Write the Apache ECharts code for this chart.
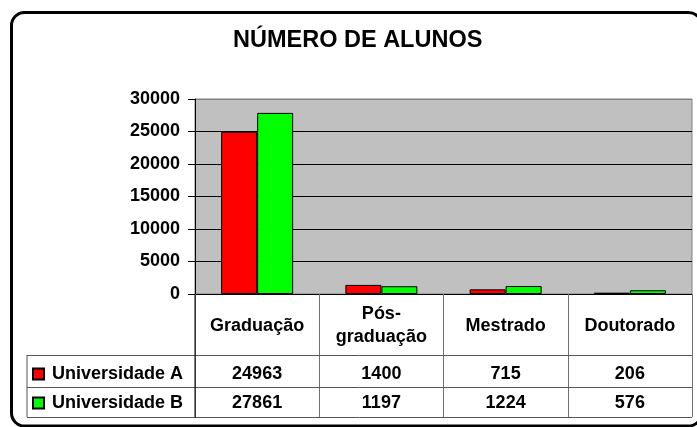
<!DOCTYPE html>
<html>
<head>
<meta charset="utf-8">
<script src="https://cdn.jsdelivr.net/npm/echarts@6/dist/echarts.min.js"></script>
<style>html,body{margin:0;padding:0;background:#fff}#c{width:697px;height:427px}</style>
</head>
<body>
<div id="c"></div>
<script>
var titleText = 'NÚMERO DE ALUNOS';
var categories = ['Graduação', 'Pós-\ngraduação', 'Mestrado', 'Doutorado'];
var seriesNames = ['Universidade A', 'Universidade B'];
var uniA = [24963, 1400, 715, 206];
var uniB = [27861, 1197, 1224, 576];
var yTicks = [0, 5000, 10000, 15000, 20000, 25000, 30000];

var FONT = 'Liberation Sans, Arial, sans-serif';
var chart = echarts.init(document.getElementById('c'));

var G = {left: 195, right: 692, top: 99, bottom: 294};
var rowLines = [355, 387, 417];

function tableAxis(values, margin) {
  return {
    type: 'category', data: categories, gridIndex: 0, position: 'bottom', offset: 0,
    axisLine: {show: false}, axisTick: {show: false}, splitLine: {show: false},
    axisLabel: {
      margin: margin, verticalAlign: 'middle', interval: 0,
      color: '#000', fontFamily: FONT, fontWeight: 'bold', fontSize: 18,
      formatter: function (v, i) { return String(values[i]); }
    }
  };
}

var graphics = [
  {type: 'rect', silent: true, z: 100,
   shape: {x: 11.5, y: 12.5, width: 690, height: 413.5, r: 13},
   style: {fill: 'transparent', stroke: '#000', lineWidth: 3}},
  {type: 'line', silent: true, z: 50, shape: {x1: G.left, y1: G.bottom, x2: G.left, y2: rowLines[2] + 0.5},
   style: {stroke: '#000', lineWidth: 1}},
  {type: 'line', silent: true, z: 40, shape: {x1: 27, y1: rowLines[0], x2: 27, y2: rowLines[2]},
   style: {stroke: '#555', lineWidth: 1}}
];
rowLines.forEach(function (y) {
  graphics.push({type: 'line', silent: true, z: 40,
    shape: {x1: 27, y1: y + 0.5, x2: G.right, y2: y + 0.5},
    style: {stroke: '#555', lineWidth: 1}});
});

var option = {
  animation: false,
  backgroundColor: '#fff',
  title: {
    text: titleText, left: 233, top: 29, padding: 0,
    textStyle: {fontFamily: FONT, fontWeight: 'bold', fontSize: 23.5, color: '#000', lineHeight: 24}
  },
  legend: seriesNames.map(function (n, i) {
    return {
      data: [n], orient: 'vertical', left: 32, top: 364 + i * 29, padding: 0,
      itemWidth: 11, itemHeight: 11, icon: 'rect', selectedMode: false,
      textStyle: {fontFamily: FONT, fontWeight: 'bold', fontSize: 18, color: '#000', lineHeight: 20, padding: [0, 0, 0, 3]}
    };
  }),
  grid: {
    left: G.left, right: 697 - G.right, top: G.top, bottom: 427 - G.bottom,
    show: true, backgroundColor: '#C0C0C0', borderColor: '#808080', borderWidth: 1,
    outerBoundsMode: 'none', containLabel: false
  },
  xAxis: [
    {
      type: 'category', data: categories, position: 'bottom',
      axisLine: {show: true, lineStyle: {color: '#000', width: 1}},
      axisTick: {show: true, inside: false, length: rowLines[2] - G.bottom, alignWithLabel: false,
                 lineStyle: {color: '#707070', width: 1}},
      axisLabel: {margin: 32, verticalAlign: 'middle', interval: 0, lineHeight: 23,
                  color: '#000', fontFamily: FONT, fontWeight: 'bold', fontSize: 18, align: 'center'},
      splitLine: {show: false}
    },
    tableAxis(uniA, 80),
    tableAxis(uniB, 109)
  ],
  yAxis: {
    type: 'value', min: yTicks[0], max: yTicks[yTicks.length - 1], interval: yTicks[1] - yTicks[0],
    axisLine: {show: true, lineStyle: {color: '#000', width: 1}},
    axisTick: {show: true, length: 7, lineStyle: {color: '#000'}},
    axisLabel: {margin: 15, color: '#000', fontFamily: FONT, fontWeight: 'bold', fontSize: 18,
                formatter: function (v) { return String(v); }},
    splitLine: {show: true, lineStyle: {color: ['#000', '#000', '#000', '#000', '#000', '#000', '#808080'], width: 1}}
  },
  series: [
    {name: seriesNames[0], type: 'bar', data: uniA, xAxisIndex: 0, barWidth: 36, barGap: '0%',
     itemStyle: {color: '#FF0000', borderColor: '#000', borderWidth: 1}},
    {name: seriesNames[1], type: 'bar', data: uniB, xAxisIndex: 0, barWidth: 36, barGap: '0%',
     itemStyle: {color: '#00FF00', borderColor: '#000', borderWidth: 1}}
  ],
  graphic: graphics
};
chart.setOption(option);
</script>
</body>
</html>
